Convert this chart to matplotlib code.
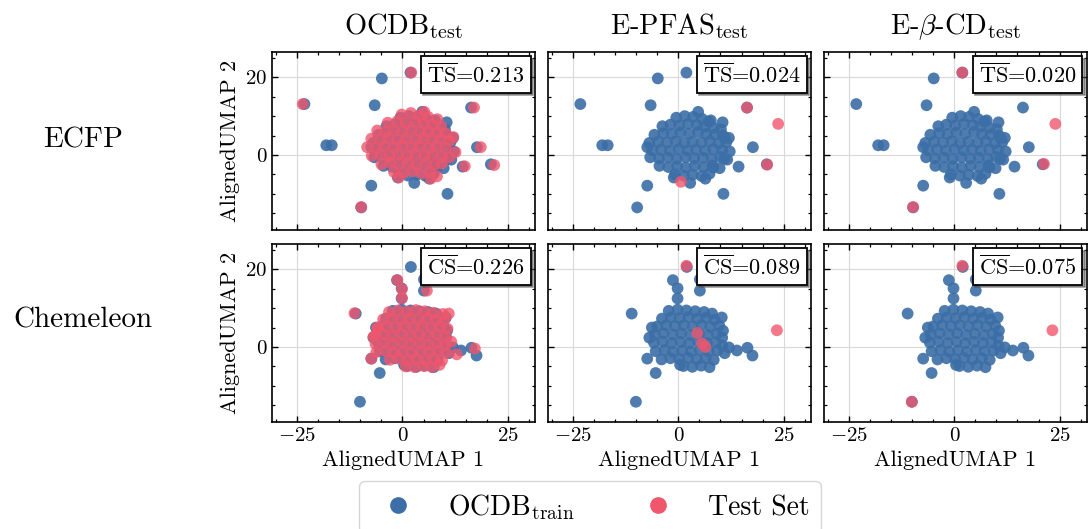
"""AlignedUMAP embedding: OCDB train vs test sets, ECFP / Chemeleon"""
import matplotlib as mpl
mpl.use('Agg')
import matplotlib.pyplot as plt
from matplotlib.lines import Line2D
from matplotlib.ticker import MultipleLocator

mpl.rcParams.update({
    'font.family': 'serif',
    'font.serif': ['cmr10', 'DejaVu Serif'],
    'mathtext.fontset': 'cm',
    'axes.formatter.use_mathtext': True,
    'axes.unicode_minus': True,
    'axes.linewidth': 1.2,
    'xtick.direction': 'in',
    'ytick.direction': 'in',
    'xtick.top': True,
    'ytick.right': True,
    'xtick.major.size': 4.5,
    'ytick.major.size': 4.5,
    'xtick.minor.size': 2.5,
    'ytick.minor.size': 2.5,
    'xtick.major.width': 1.0,
    'ytick.major.width': 1.0,
    'xtick.minor.width': 0.9,
    'ytick.minor.width': 0.9,
    'xtick.labelsize': 15,
    'ytick.labelsize': 15,
})

BLUE = '#3C6EA7'
PINK = '#F0566C'

COL_TITLES = [r'OCDB$_{\rm test}$', r'E-PFAS$_{\rm test}$', r'E-$\beta$-CD$_{\rm test}$']
ROW_TITLES = ['ECFP', 'Chemeleon']
TS_SCORES = [0.213, 0.024, 0.020]
CS_SCORES = [0.226, 0.089, 0.075]

# ── ECFP embedding ──
ECFP_TRAIN = [
    (-0.5, 9.6), (1.5, 10.0), (3.5, 9.8), (5.6, 9.3), (7.2, 8.6),
    (-3.8, 7.4), (-1.9, 7.8), (0.2, 7.6), (2.3, 8.0), (4.4, 7.7), (6.3, 7.3), (8.4, 7.0), (10.1, 6.6),
    (-5.7, 5.2), (-3.6, 5.6), (-1.6, 5.4), (0.5, 5.8), (2.6, 5.5), (4.7, 5.9), (6.6, 5.4), (8.6, 5.2),
    (10.6, 5.0), (12.0, 4.4),
    (-6.9, 3.1), (-4.8, 3.4), (-2.7, 3.2), (-0.6, 3.5), (1.4, 3.1), (3.4, 3.4), (5.5, 3.2), (7.5, 3.5),
    (9.6, 3.0), (11.4, 3.3),
    (-7.4, 2.0), (-6.2, 1.2), (-4.1, 1.4), (-2.0, 1.1), (0.1, 1.5), (2.2, 1.2), (4.2, 1.4), (6.3, 1.1),
    (8.3, 1.5), (10.4, 1.2), (12.2, 0.9),
    (-6.7, -0.6), (-4.6, -0.9), (-2.5, -0.7), (-0.4, -1.0), (1.7, -0.6), (3.8, -0.9), (5.8, -0.7),
    (7.9, -1.0), (9.9, -0.5), (11.6, -1.2),
    (-4.5, -2.8), (-2.4, -3.1), (-0.3, -2.9), (1.8, -3.2), (3.9, -2.8), (6.0, -3.1), (8.1, -2.7), (9.8, -3.4),
    (-0.8, -5.0), (1.3, -5.3), (3.4, -5.1), (5.5, -5.4), (7.4, -4.8),
    # outliers
    (-23.3, 13.1), (-18.1, 2.5), (-16.8, 2.5), (-4.9, 19.7), (1.9, 21.2), (-6.6, 12.8), (4.7, 11.1),
    (7.7, 8.9), (10.5, 8.4), (16.3, 12.2), (17.7, 2.0), (14.3, -3.0), (21.0, -2.4), (-7.4, -7.9),
    (-9.8, -13.5), (10.7, -10.0), (2.8, -7.2), (-1.1, -5.8), (6.4, -6.1), (8.3, -3.2), (10.9, -1.0),
    (11.0, 4.4),
]
ECFP_OCDB_TEST = [
    (-0.2, 10.4), (2.0, 10.8), (4.0, 10.2), (6.1, 9.8), (8.3, 9.2), (5.2, 11.1),
    (-3.5, 8.3), (-1.3, 8.6), (0.8, 8.2), (3.0, 8.7), (5.0, 8.1), (7.0, 7.8), (9.2, 7.4),
    (-6.0, 6.3), (-4.0, 6.0), (-2.0, 6.4), (0.0, 6.1), (2.1, 6.5), (4.2, 6.2), (6.2, 6.0), (8.2, 5.8),
    (10.3, 5.5), (12.1, 4.6),
    (-7.4, 4.2), (-5.3, 4.0), (-3.2, 4.3), (-1.1, 3.9), (1.0, 4.2), (3.1, 4.0), (5.1, 4.3), (7.1, 3.9),
    (9.2, 4.1), (11.2, 3.7),
    (-8.4, 2.0), (-6.3, 1.8), (-4.2, 2.2), (-2.1, 1.9), (0.0, 2.3), (2.1, 1.9), (4.1, 2.2), (6.2, 1.8),
    (8.2, 2.1), (10.3, 1.8), (12.6, 0.7),
    (-7.3, -0.2), (-5.2, 0.0), (-3.1, -0.3), (-1.0, 0.1), (1.1, -0.2), (3.1, 0.1), (5.2, -0.3), (7.2, 0.0),
    (9.3, -0.4), (11.2, -0.6),
    (-5.0, -2.4), (-2.9, -2.0), (-0.8, -2.3), (1.3, -2.0), (3.4, -2.5), (5.5, -2.1), (7.6, -2.6), (9.4, -2.2),
    (-2.0, -4.4), (0.3, -4.6), (2.4, -4.2), (4.5, -4.7), (6.6, -4.4), (8.2, -5.5), (-0.9, -5.8), (6.7, -6.1),
    # outliers
    (-23.7, 13.1), (2.1, 21.2), (17.0, 12.2), (18.6, 2.0), (21.8, -2.6), (14.8, -2.9), (-9.8, -13.4),
]
ECFP_EPFAS_TEST = [(16.3, 12.2), (23.7, 8.0), (21.1, -2.5), (0.6, -6.9)]
ECFP_EBCD_TEST = [(1.9, 21.2), (24.0, 8.0), (21.3, -2.3), (-9.8, -13.4)]

# ── Chemeleon embedding ──
CHEM_TRAIN = [
    (-2.3, 9.3), (-0.2, 9.6), (1.9, 9.4), (4.0, 9.2), (6.1, 9.0), (8.0, 8.6),
    (-3.9, 7.3), (-1.8, 7.6), (0.3, 7.4), (2.4, 7.7), (4.5, 7.3), (6.6, 7.5), (8.6, 7.0), (10.3, 7.6),
    (-5.0, 5.3), (-2.9, 5.6), (-0.8, 5.4), (1.3, 5.6), (3.4, 5.3), (5.5, 5.6), (7.6, 5.2), (9.7, 5.5),
    (10.6, 4.2),
    (-5.6, 3.2), (-3.5, 3.5), (-1.4, 3.2), (0.7, 3.5), (2.8, 3.1), (4.9, 3.4), (7.0, 3.1), (9.1, 3.4),
    (10.4, 2.4),
    (-5.8, 1.1), (-3.7, 1.4), (-1.6, 1.0), (0.5, 1.3), (2.6, 1.0), (4.7, 1.3), (6.8, 1.0), (8.9, 1.2),
    (10.5, 0.3), (12.0, -0.1),
    (-5.4, -1.1), (-3.3, -0.8), (-1.2, -1.2), (0.9, -0.9), (3.0, -1.2), (5.1, -0.8), (7.2, -1.1),
    (9.3, -0.9), (11.0, -1.6),
    (-4.0, -3.2), (-1.9, -2.9), (0.2, -3.1), (2.3, -2.8), (4.4, -3.2), (6.5, -2.9), (8.4, -3.3),
    (0.4, -4.6), (1.2, -4.9), (3.3, -5.1), (5.4, -4.8), (7.4, -5.2),
    # outliers
    (-11.1, 8.6), (-1.3, 17.2), (-0.2, 15.1), (5.1, 17.4), (5.1, 14.5), (-0.2, 12.5), (2.0, 20.6),
    (-6.3, 5.0), (-6.9, 2.4), (-7.4, -3.0), (-5.4, -6.7), (-10.1, -14.1), (16.4, -0.2), (17.6, -2.2),
    (13.9, -0.9),
]
CHEM_OCDB_TEST = [
    (-3.2, 9.0), (-1.0, 9.4), (1.1, 9.1), (3.2, 9.5), (5.3, 9.2), (7.4, 8.8), (9.6, 8.5), (11.0, 8.6),
    (-4.6, 7.1), (-2.5, 7.4), (-0.4, 7.0), (1.7, 7.3), (3.8, 7.0), (5.9, 7.4), (8.0, 6.9), (10.1, 7.2),
    (-5.8, 5.0), (-3.7, 5.3), (-1.6, 5.0), (0.5, 5.4), (2.6, 5.1), (4.7, 5.4), (6.8, 5.0), (8.9, 5.3),
    (10.7, 4.7),
    (-6.5, 2.9), (-4.4, 3.2), (-2.3, 2.9), (-0.2, 3.3), (1.9, 2.9), (4.0, 3.2), (6.1, 2.9), (8.2, 3.2),
    (10.2, 2.7),
    (-6.4, 0.8), (-4.3, 1.1), (-2.2, 0.8), (-0.1, 1.1), (2.0, 0.8), (4.1, 1.1), (6.2, 0.7), (8.3, 1.0),
    (10.3, 0.6), (11.6, 1.4),
    (-6.2, -1.3), (-4.1, -1.0), (-2.0, -1.4), (0.1, -1.1), (2.2, -1.4), (4.3, -1.0), (6.4, -1.3),
    (8.5, -1.0), (10.5, -1.5),
    (-3.0, -3.3), (-0.9, -3.0), (1.2, -3.4), (3.3, -3.1), (5.4, -3.4), (7.5, -3.0), (9.4, -3.5),
    (0.8, -5.0), (2.9, -5.2), (5.0, -4.9), (7.0, -5.2), (8.8, -4.6),
    # outliers
    (-1.2, 17.2), (-0.1, 14.9), (-0.1, 12.6), (5.8, 14.5), (6.0, 17.2), (-11.4, 8.7), (-6.9, 2.6),
    (-6.0, 4.9), (-7.4, -3.0), (17.2, -0.4), (12.9, -1.9),
]
CHEM_EPFAS_TEST = [(1.9, 20.9), (4.5, 3.6), (5.6, 0.9), (6.4, 0.0), (23.4, 4.3)]
CHEM_EBCD_TEST = [(1.9, 20.9), (23.3, 4.3), (-10.1, -14.1)]

TRAIN_SETS = [ECFP_TRAIN, CHEM_TRAIN]
TEST_SETS = [
    [ECFP_OCDB_TEST, ECFP_EPFAS_TEST, ECFP_EBCD_TEST],
    [CHEM_OCDB_TEST, CHEM_EPFAS_TEST, CHEM_EBCD_TEST],
]


def score_box(ax, text):
    h = Line2D([], [], linestyle='none')
    leg = ax.legend([h], [text], loc='upper right', handlelength=0, handletextpad=0,
                    fancybox=False, shadow={'ox': 1.5, 'oy': -1.5}, framealpha=1, edgecolor='black',
                    fontsize=16, borderpad=0.28, borderaxespad=0.2)
    leg.get_frame().set_linewidth(1.3)


fig, axes = plt.subplots(2, 3, figsize=(10.88, 5.29), dpi=100, sharex=True, sharey=True)
fig.subplots_adjust(left=0.25, right=0.999, top=0.9017, bottom=0.2023, wspace=0.049, hspace=0.079)

for r in range(2):
    tx, ty = zip(*TRAIN_SETS[r])
    scores = TS_SCORES if r == 0 else CS_SCORES
    tag = 'TS' if r == 0 else 'CS'
    for c in range(3):
        ax = axes[r, c]
        ax.grid(True, color='#d9d9d9', lw=0.8, zorder=0)
        ax.set_axisbelow(True)
        ax.scatter(tx, ty, s=72, color=BLUE, alpha=0.9, edgecolors='none', zorder=2)
        sx, sy = zip(*TEST_SETS[r][c])
        ax.scatter(sx, sy, s=72, color=PINK, alpha=0.8, edgecolors='none', zorder=3)
        score_box(ax, r'$\overline{\mathrm{%s}}$=%.3f' % (tag, scores[c]))
        if r == 0:
            ax.set_title(COL_TITLES[c], fontsize=20.5, pad=13)
        if r == 1:
            ax.set_xlabel('AlignedUMAP 1', fontsize=16)
        if c == 0:
            ax.set_ylabel('AlignedUMAP 2', fontsize=16)

ax = axes[0, 0]
ax.set_xlim(-31, 31.5)
ax.set_ylim(-19.3, 26.5)
ax.xaxis.set_major_locator(MultipleLocator(25))
ax.xaxis.set_minor_locator(MultipleLocator(5))
ax.yaxis.set_major_locator(MultipleLocator(20))
ax.yaxis.set_minor_locator(MultipleLocator(5))
for a in axes.flat:
    a.tick_params(which='both', top=True, right=True)

fig.text(83 / 1088, 1 - 140 / 529, ROW_TITLES[0], fontsize=21, ha='center', va='center')
fig.text(83 / 1088, 1 - 320 / 529, ROW_TITLES[1], fontsize=21, ha='center', va='center')

handles = [
    Line2D([], [], marker='o', linestyle='none', color=BLUE, markersize=11),
    Line2D([], [], marker='o', linestyle='none', color=PINK, markersize=11),
]
fig.legend(handles, [r'OCDB$_{\rm train}$', 'Test Set'], loc='upper center', ncol=2,
           bbox_to_anchor=(590 / 1088, 1 - 481 / 529), borderaxespad=0, fontsize=20)

fig.savefig('out.png', dpi=100)
